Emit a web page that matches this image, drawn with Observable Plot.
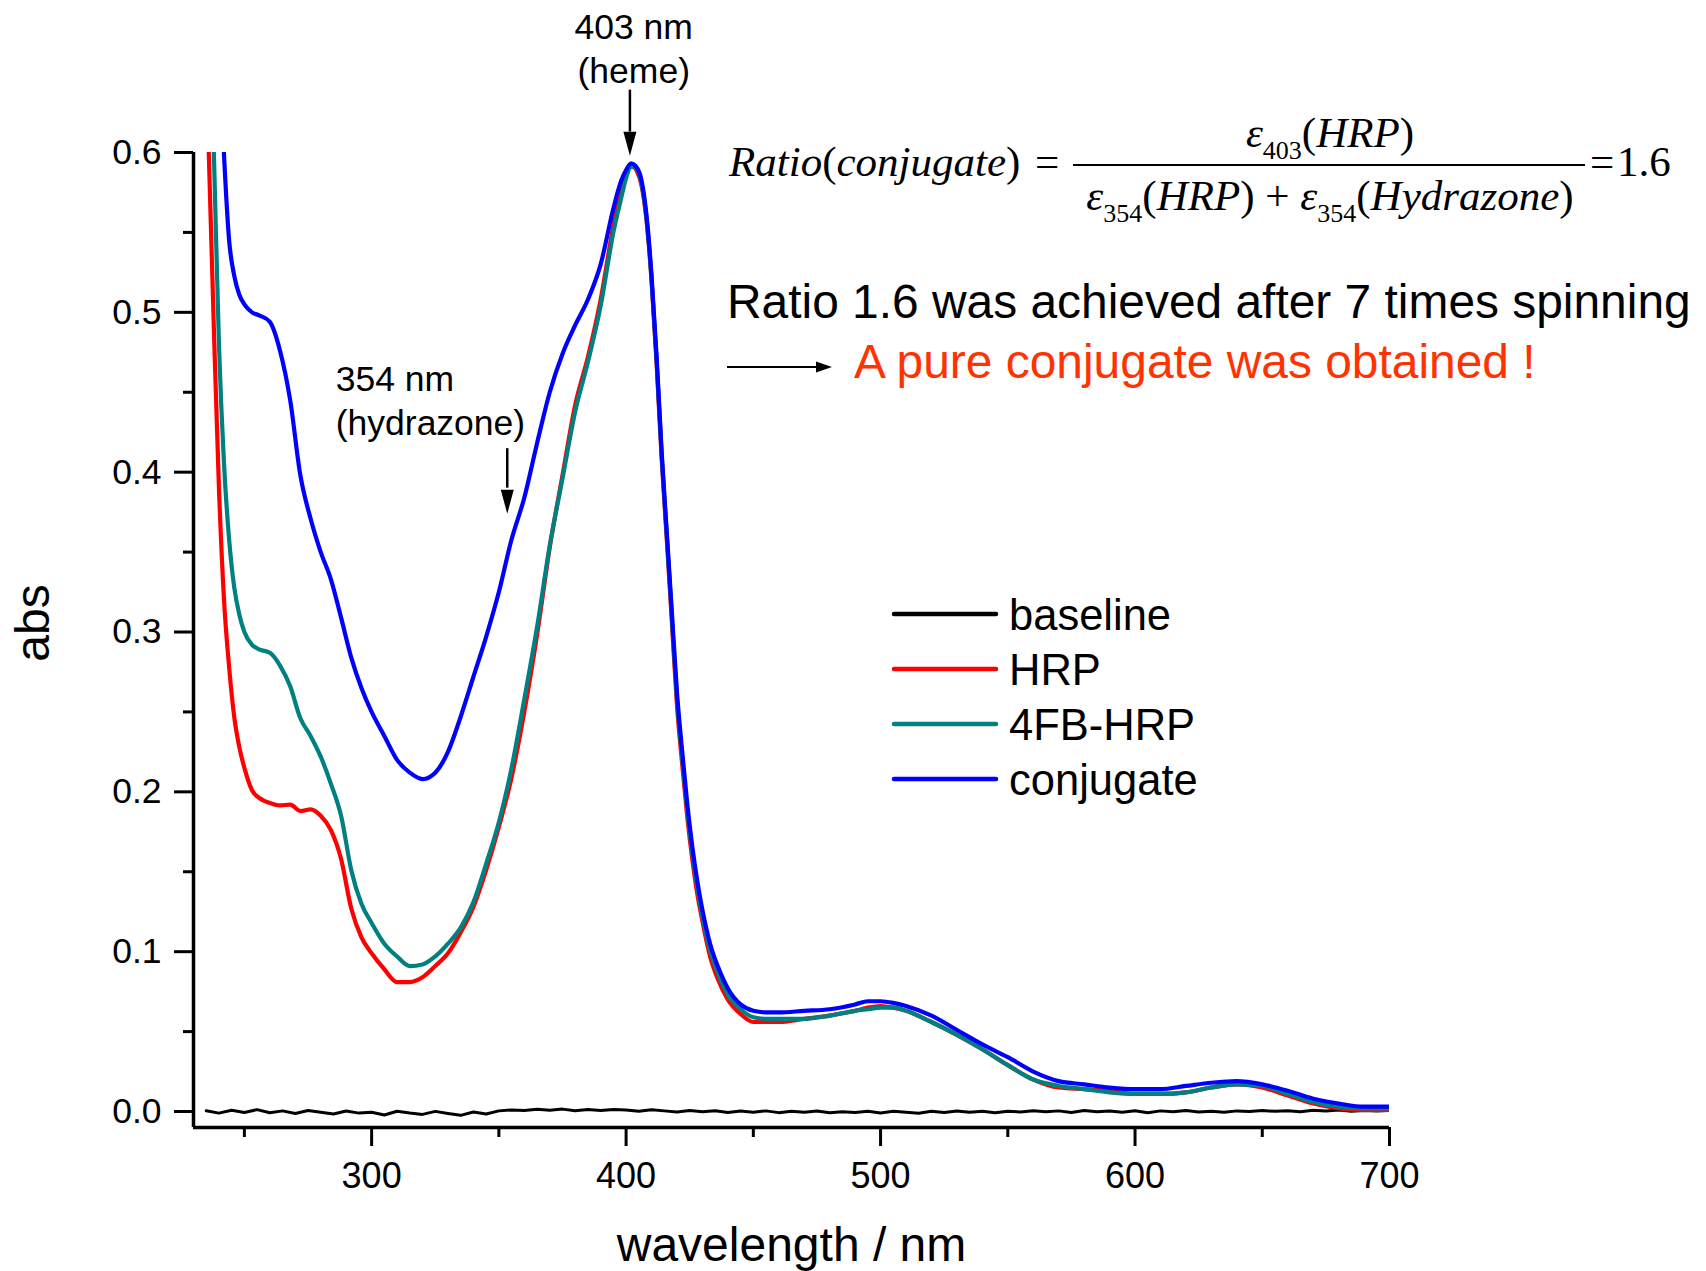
<!DOCTYPE html>
<html>
<head>
<meta charset="utf-8">
<script src="https://cdn.jsdelivr.net/npm/d3@7"></script>
<script src="https://cdn.jsdelivr.net/npm/@observablehq/plot@0.6"></script>
<style>
  html, body { margin: 0; padding: 0; background: #fff; }
  #wrap { position: relative; width: 1706px; height: 1271px; font-family: "Liberation Sans", Arial, sans-serif; }
  #wrap > svg.overlay { position: absolute; left: 0; top: 0; pointer-events: none; }
</style>
</head>
<body>
<div id="wrap"></div>
<script>
// ---------------- data ----------------
const wavelength = [234, 236, 238, 240, 242, 244, 246, 248, 250, 253,
  256, 260, 264, 268, 272, 276, 280, 284, 288, 292,
  296, 300, 305, 310, 315, 320, 325, 330, 335, 340,
  345, 350, 355, 360, 365, 370, 375, 380, 385, 390,
  395, 398, 400, 402, 404, 406, 408, 410, 412, 414,
  416, 418, 420, 422, 424, 426, 428, 430, 433, 436,
  440, 445, 450, 455, 460, 470, 480, 490, 495, 500,
  505, 510, 520, 530, 540, 550, 560, 570, 580, 590,
  600, 610, 620, 630, 640, 650, 660, 670, 680, 690,
  700];

const hrp = [0.70, 0.60, 0.49, 0.39, 0.32, 0.278, 0.247, 0.228, 0.215, 0.201,
  0.196, 0.193, 0.1915, 0.192, 0.188, 0.189, 0.185, 0.176, 0.158, 0.127,
  0.109, 0.099, 0.089, 0.081, 0.081, 0.084, 0.091, 0.099, 0.112, 0.128,
  0.151, 0.178, 0.209, 0.250, 0.298, 0.353, 0.398, 0.442, 0.472, 0.508,
  0.554, 0.576, 0.587, 0.593, 0.589, 0.580, 0.558, 0.520, 0.468, 0.408,
  0.358, 0.306, 0.254, 0.218, 0.185, 0.158, 0.136, 0.119, 0.097, 0.083,
  0.070, 0.061, 0.056, 0.056, 0.056, 0.058, 0.060, 0.063, 0.065, 0.066,
  0.065, 0.063, 0.056, 0.048, 0.039, 0.029, 0.020, 0.015, 0.014, 0.013,
  0.011, 0.011, 0.012, 0.015, 0.017, 0.015, 0.010, 0.005, 0.002, 0.001,
  0.001];

const fbHrp = [0.80, 0.70, 0.60, 0.48, 0.405, 0.358, 0.328, 0.311, 0.300, 0.292,
  0.289, 0.287, 0.279, 0.266, 0.246, 0.235, 0.222, 0.205, 0.185, 0.151,
  0.130, 0.118, 0.105, 0.097, 0.091, 0.092, 0.097, 0.105, 0.115, 0.131,
  0.155, 0.181, 0.215, 0.258, 0.303, 0.354, 0.396, 0.438, 0.469, 0.504,
  0.550, 0.571, 0.584, 0.591, 0.590, 0.581, 0.559, 0.521, 0.470, 0.410,
  0.360, 0.309, 0.258, 0.222, 0.189, 0.162, 0.140, 0.122, 0.101, 0.087,
  0.073, 0.064, 0.059, 0.058, 0.058, 0.058, 0.060, 0.063, 0.064, 0.065,
  0.065, 0.063, 0.056, 0.048, 0.039, 0.029, 0.020, 0.016, 0.014, 0.012,
  0.011, 0.011, 0.012, 0.015, 0.017, 0.016, 0.011, 0.006, 0.003, 0.002,
  0.002];

const conjugate = [0.95, 0.85, 0.76, 0.67, 0.598, 0.545, 0.523, 0.511, 0.505, 0.500,
  0.498, 0.494, 0.476, 0.445, 0.398, 0.371, 0.350, 0.333, 0.309, 0.284,
  0.265, 0.250, 0.235, 0.220, 0.212, 0.208, 0.212, 0.225, 0.247, 0.272,
  0.297, 0.325, 0.358, 0.384, 0.418, 0.450, 0.474, 0.492, 0.508, 0.530,
  0.565, 0.582, 0.589, 0.593, 0.591, 0.583, 0.561, 0.523, 0.472, 0.412,
  0.362, 0.312, 0.262, 0.226, 0.193, 0.166, 0.144, 0.126, 0.105, 0.091,
  0.077, 0.067, 0.063, 0.062, 0.062, 0.063, 0.064, 0.067, 0.069, 0.069,
  0.068, 0.066, 0.060, 0.051, 0.042, 0.034, 0.025, 0.019, 0.017, 0.015,
  0.014, 0.014, 0.016, 0.018, 0.019, 0.017, 0.013, 0.008, 0.005, 0.003,
  0.003];

const baseWavelength = [235, 240, 245, 250, 255, 260, 265, 270, 275, 280,
  285, 290, 295, 300, 305, 310, 315, 320, 325, 330,
  335, 340, 345, 350, 355, 360, 365, 370, 375, 380,
  385, 390, 395, 400, 405, 410, 415, 420, 425, 430,
  435, 440, 445, 450, 455, 460, 465, 470, 475, 480,
  485, 490, 495, 500, 505, 510, 515, 520, 525, 530,
  535, 540, 545, 550, 555, 560, 565, 570, 575, 580,
  585, 590, 595, 600, 605, 610, 615, 620, 625, 630,
  635, 640, 645, 650, 655, 660, 665, 670, 675, 680,
  685, 690, 695, 700];

const baseline = [0.0005, -0.0010, 0.0008, -0.0006, 0.0012, -0.0008, 0.0004, -0.0012, 0.0006, -0.0004,
  -0.0015, 0.0003, -0.0010, -0.0005, -0.0022, 0.0002, -0.0009, -0.0018, 0.0001, -0.0012,
  -0.0024, -0.0003, -0.0016, 0.0004, 0.0010, 0.0006, 0.0014, 0.0008, 0.0015, 0.0005,
  0.0012, 0.0007, 0.0013, 0.0009, 0.0002, 0.0011, 0.0004, -0.0003, 0.0006, -0.0002,
  0.0005, -0.0006, 0.0003, -0.0004, 0.0004, -0.0007, 0.0001, -0.0005, 0.0003, -0.0008,
  -0.0001, -0.0006, 0.0002, -0.0009, 0.0001, -0.0004, -0.0011, 0.0002, -0.0006, 0.0003,
  -0.0005, 0.0001, -0.0007, 0.0002, -0.0003, 0.0005, -0.0002, 0.0004, -0.0006, 0.0006,
  -0.0001, 0.0003, -0.0004, 0.0005, -0.0008, 0.0004, -0.0002, 0.0006, -0.0003, 0.0002,
  -0.0005, 0.0004, 0.0000, 0.0007, 0.0001, 0.0005, -0.0002, 0.0008, 0.0003, 0.0009,
  0.0002, 0.0006, 0.0004, 0.0007];

const seriesNames = ["baseline", "HRP", "4FB-HRP", "conjugate"];
const seriesColors = ["#000000", "#ff0000", "#008080", "#0000ff"];

const xTicks = [300, 400, 500, 600, 700];
const xMinorTicks = [250, 350, 450, 550, 650];
const yTicks = [0, 0.1, 0.2, 0.3, 0.4, 0.5, 0.6];
const yMinorTicks = [0.05, 0.15, 0.25, 0.35, 0.45, 0.55];

const xLabel = "wavelength / nm";
const yLabel = "abs";
const heme = {x: 403, y: 0.6433, arrowX: 401.5, top: 0.639, base: 0.6128, tip: 0.598, text: "403 nm\n(heme)"};
const hydrazone = {x: 285.9, y: 0.423, arrowX: 353.3, top: 0.4147, base: 0.390, tip: 0.374, text: "354 nm\n(hydrazone)"};
const line1 = "Ratio 1.6 was achieved after 7 times spinning";
const line2 = "A pure conjugate was obtained !";

// ---------------- build rows ----------------
const spectra = [];
[[hrp, "HRP"], [fbHrp, "4FB-HRP"], [conjugate, "conjugate"]].forEach(([vals, name]) => {
  wavelength.forEach((w, i) => spectra.push({w, v: vals[i], s: name}));
});
const baseRows = baseWavelength.map((w, i) => ({w, v: baseline[i], s: "baseline"}));

const arrowHead = {
  draw(ctx) {
    ctx.moveTo(0, 0);
    ctx.lineTo(-6.5, -24);
    ctx.lineTo(6.5, -24);
    ctx.closePath();
  }
};

const font = "'Liberation Sans', Arial, sans-serif";

const chart = Plot.plot({
  width: 1706,
  height: 1271,
  marginLeft: 193,
  marginRight: 317,
  marginTop: 152,
  marginBottom: 144,
  style: {fontFamily: font, background: "white", color: "black"},
  x: {domain: [230, 700]},
  y: {domain: [-0.01, 0.6]},
  color: {domain: seriesNames, range: seriesColors},
  marks: [
    Plot.line(baseRows, {x: "w", y: "v", stroke: "s", strokeWidth: 3, clip: true}),
    Plot.line(spectra, {x: "w", y: "v", z: "s", stroke: "s", strokeWidth: 4.2, strokeLinejoin: "round",
      curve: "monotone-x", clip: true}),
    Plot.ruleX([230], {strokeWidth: 3.5}),
    Plot.ruleY([-0.01], {strokeWidth: 3.5}),
    Plot.axisY({ticks: yTicks, anchor: "left", tickSize: 19, tickPadding: 13, strokeWidth: 3,
      tickFormat: d => d.toFixed(1), fontSize: 35.5, label: null}),
    Plot.axisY({ticks: yMinorTicks, anchor: "left", tickSize: 10, strokeWidth: 3,
      tickFormat: () => "", label: null}),
    Plot.axisX({ticks: xTicks, anchor: "bottom", tickSize: 19, tickPadding: 16, strokeWidth: 3,
      tickFormat: d => String(d), fontSize: 36, label: null}),
    Plot.axisX({ticks: xMinorTicks, anchor: "bottom", tickSize: 10, strokeWidth: 3,
      tickFormat: () => "", label: null}),
    Plot.text([xLabel], {frameAnchor: "bottom", dy: 133, lineAnchor: "bottom", textAnchor: "middle", fontSize: 48}),
    Plot.text([yLabel], {frameAnchor: "left", dx: -145, dy: -17, rotate: -90, lineAnchor: "bottom",
      textAnchor: "middle", fontSize: 48}),
    // annotations
    Plot.text([heme], {x: "x", y: "y", text: "text", lineAnchor: "bottom", lineHeight: 1.257, fontSize: 35.5, textAnchor: "middle"}),
    Plot.ruleX([heme], {x: "arrowX", y1: "top", y2: "base", strokeWidth: 2.5}),
    Plot.dot([heme], {x: "arrowX", y: "tip", symbol: arrowHead, fill: "black"}),
    Plot.text([hydrazone], {x: "x", y: "y", text: "text", lineAnchor: "bottom", lineHeight: 1.24, fontSize: 35.5, textAnchor: "start"}),
    Plot.ruleX([hydrazone], {x: "arrowX", y1: "top", y2: "base", strokeWidth: 2.5}),
    Plot.dot([hydrazone], {x: "arrowX", y: "tip", symbol: arrowHead, fill: "black"})
  ]
});

const wrap = document.getElementById("wrap");
wrap.appendChild(chart);

// ---------------- overlay: formula, statement, legend ----------------
const ov = d3.create("svg")
  .attr("class", "overlay")
  .attr("width", 1706).attr("height", 1271)
  .attr("viewBox", "0 0 1706 1271");

const serif = "'Liberation Serif', 'Times New Roman', serif";
const f = ov.append("g").attr("font-family", serif).attr("font-size", 43).attr("fill", "black");

const lhs = f.append("text").attr("x", 729).attr("y", 176);
lhs.append("tspan").attr("font-style", "italic").text("Ratio");
lhs.append("tspan").text("(");
lhs.append("tspan").attr("font-style", "italic").text("conjugate");
lhs.append("tspan").text(")");
f.append("text").attr("x", 1035).attr("y", 176).text("=");
f.append("line").attr("x1", 1073).attr("x2", 1585).attr("y1", 165).attr("y2", 165)
  .attr("stroke", "black").attr("stroke-width", 2);

function epsTerm(t, sub, name) {
  t.append("tspan").attr("font-style", "italic").text("ε");
  t.append("tspan").attr("font-size", 26).attr("dy", 12).text(sub);
  t.append("tspan").attr("dy", -12).text("(");
  t.append("tspan").attr("font-style", "italic").text(name);
  t.append("tspan").text(")");
}
const num = f.append("text").attr("x", 1330).attr("y", 147).attr("text-anchor", "middle");
epsTerm(num, "403", "HRP");
const den = f.append("text").attr("x", 1330).attr("y", 210).attr("text-anchor", "middle");
epsTerm(den, "354", "HRP");
den.append("tspan").text(" + ");
epsTerm(den, "354", "Hydrazone");
f.append("text").attr("x", 1590).attr("y", 176).text("=");
f.append("text").attr("x", 1617).attr("y", 176).text("1.6");

const s = ov.append("g").attr("font-family", font).attr("font-size", 47.9);
s.append("text").attr("x", 727).attr("y", 318).attr("fill", "black").text(line1);
s.append("line").attr("x1", 727).attr("x2", 818).attr("y1", 367).attr("y2", 367)
  .attr("stroke", "black").attr("stroke-width", 2);
s.append("path").attr("d", "M832,367 L816,361.5 L816,372.5 Z").attr("fill", "black");
s.append("text").attr("x", 854).attr("y", 378).attr("fill", "#ff3300").text(line2);

const lg = ov.append("g").attr("font-family", font).attr("font-size", 43.5);
seriesNames.forEach((name, i) => {
  const y = 614 + i * 55;
  lg.append("line").attr("x1", 894).attr("x2", 996).attr("y1", y).attr("y2", y)
    .attr("stroke", seriesColors[i]).attr("stroke-width", 4.5).attr("stroke-linecap", "round");
  lg.append("text").attr("x", 1009).attr("y", y + 16).attr("fill", "black").text(name);
});

wrap.appendChild(ov.node());
</script>
</body>
</html>
